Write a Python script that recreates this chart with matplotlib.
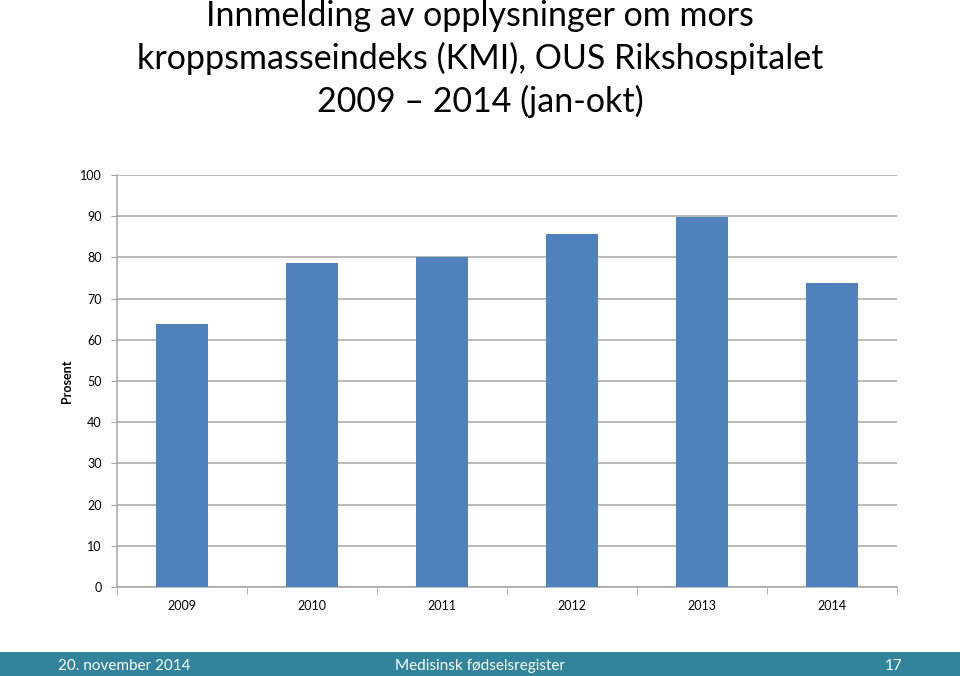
import numpy as np
import matplotlib.pyplot as plt
from matplotlib.patches import Rectangle

years = ["2009", "2010", "2011", "2012", "2013", "2014"]
prosent = [63.8, 78.7, 80.2, 85.8, 89.7, 73.9]
y_ticks = [0, 10, 20, 30, 40, 50, 60, 70, 80, 90, 100]

title_lines = [
    "Innmelding av opplysninger om mors",
    "kroppsmasseindeks (KMI), OUS Rikshospitalet",
    "2009 \u2013 2014 (jan-okt)",
]
footer_left = "20. november 2014"
footer_mid = "Medisinsk fødselsregister"
footer_right = "17"

BAR = "#4F81BD"
GRID = "#A6A6A6"
TEAL = "#31849B"
FONT = ["Lato", "DejaVu Sans"]

plt.rcParams["font.family"] = FONT

W, H = 960, 676
fig = plt.figure(figsize=(W / 100, H / 100), dpi=100)

# axes in pixel coords: left 117, right 897, top 175, bottom 587
ax = fig.add_axes([117 / W, 1 - 587 / H, (897 - 117) / W, (587 - 175) / H])
x = np.arange(len(years))
ax.bar(x, prosent, width=0.4, color=BAR, zorder=3)
ax.set_xlim(-0.5, len(years) - 0.5)
ax.set_ylim(0, 100)
ax.set_yticks(y_ticks)
ax.set_yticklabels([str(t) for t in y_ticks], fontsize=9)
ax.yaxis.grid(True, color=GRID, linewidth=1.1, zorder=0)
ax.set_xticks(x)
ax.set_xticklabels(years, fontsize=9)
ax.set_xticks(np.arange(len(years) + 1) - 0.5, minor=True)
ax.tick_params(axis="x", which="major", length=0, pad=9)
ax.tick_params(axis="x", which="minor", length=5, color=GRID, direction="out")
ax.tick_params(axis="y", length=4, color=GRID, pad=7)
for side in ["top", "right"]:
    ax.spines[side].set_visible(False)
for side in ["left", "bottom"]:
    ax.spines[side].set_color(GRID)
    ax.spines[side].set_linewidth(1.1)
ax.set_ylabel("Prosent", fontsize=9, fontweight="bold")
ax.yaxis.set_label_coords((73 - 117) / (897 - 117), 0.5)

# title
for i, line in enumerate(title_lines):
    fig.text(0.5, 1 - (16 + i * 42.5) / H, line, ha="center", va="center",
             fontsize=24.5, color="#000000")

# footer band
fig.patches.append(Rectangle((0, 0), 1, 24 / H, transform=fig.transFigure,
                             facecolor=TEAL, edgecolor="none", zorder=0))
fy = 10 / H
fig.text(58 / W, fy, footer_left, ha="left", va="center", fontsize=11, color="white")
fig.text(480 / W, fy, footer_mid, ha="center", va="center", fontsize=11, color="white")
fig.text(894 / W, fy, footer_right, ha="center", va="center", fontsize=11, color="white")

fig.savefig("out.png", dpi=100)
